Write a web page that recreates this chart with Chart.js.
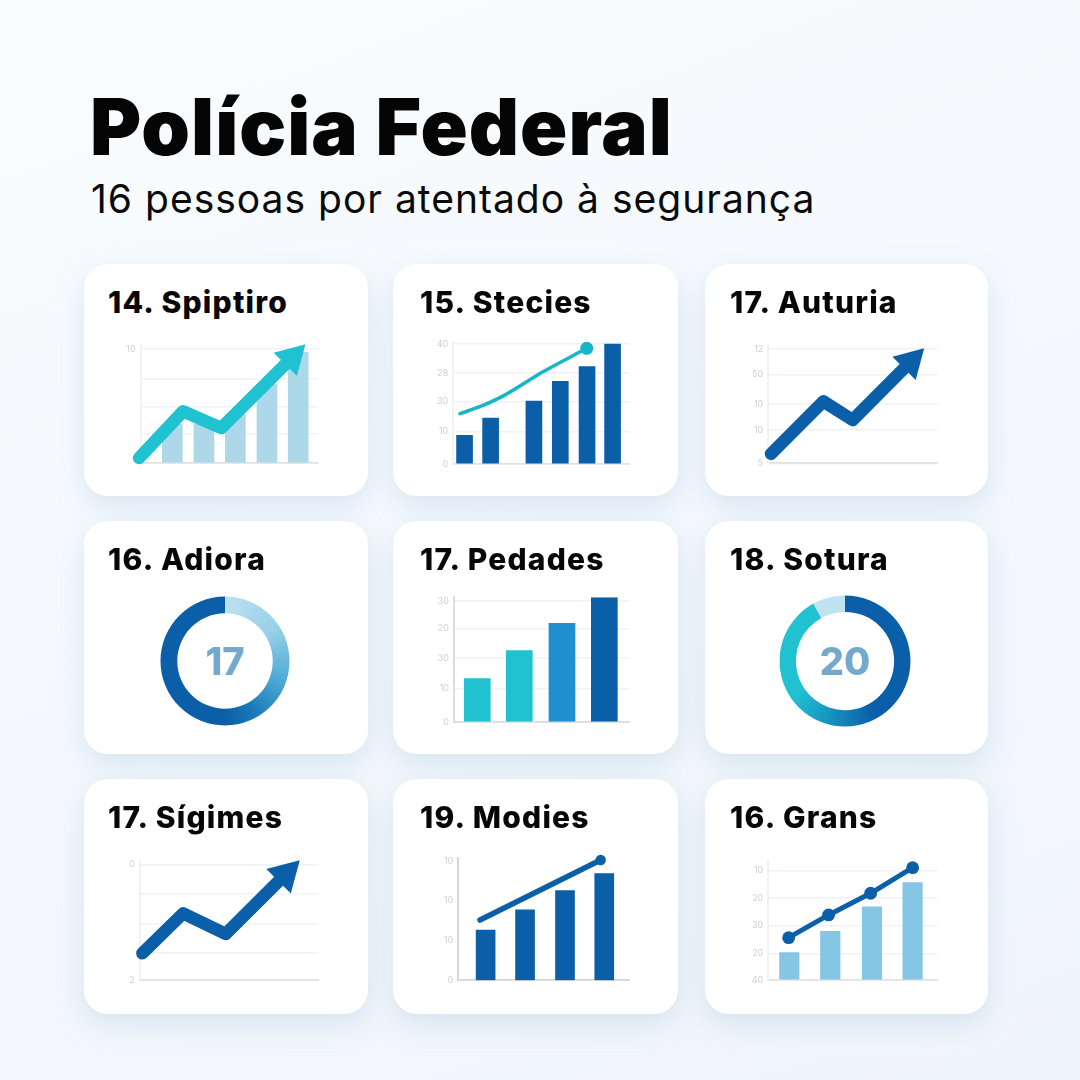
<!DOCTYPE html>
<html lang="pt"><head><meta charset="utf-8"><title>Polícia Federal</title>
<script src="https://cdn.jsdelivr.net/npm/chart.js@4"></script>
<style>
html,body{margin:0;padding:0}
body{width:1080px;height:1080px;position:relative;overflow:hidden;font-family:Inter,sans-serif;
background:linear-gradient(160deg,#f9fcfe 0%,#f5f9fd 45%,#f0f5fa 100%)}
h1{position:absolute;left:90px;top:80px;margin:0;font-size:78px;line-height:94px;font-weight:900;color:#050505;letter-spacing:1px;white-space:nowrap}
h2{position:absolute;left:91px;top:176px;margin:0;font-size:39px;line-height:46px;font-weight:400;color:#0a0a0a;letter-spacing:1px;white-space:nowrap}
.card{position:absolute;background:#fff;border-radius:24px;box-shadow:0 10px 28px rgba(140,180,215,.28)}
.card h3{position:absolute;left:24px;top:20px;margin:0;font-size:30px;line-height:36px;font-weight:800;color:#070707;white-space:nowrap;letter-spacing:1.2px}
.card canvas{position:absolute;left:0;top:0}
.val{position:absolute;font-size:38px;line-height:46px;font-weight:800;color:#74a9cd;text-align:center;width:100px}
</style></head><body>
<h1>Polícia Federal</h1>
<h2>16 pessoas por atentado à segurança</h2>
<script>
// ---- values ----
const spiptiroBarX=[17.8,35.6,53.3,71.1,88.7], spiptiroBarY=[3.4,3.4,4.3,6.9,9.7];
const spiptiroLineX=[-0.9,23.8,45.4,85.2], spiptiroLineY=[0.44,4.53,3.07,9.24];
const spiptiroTicks=[0,2.54,4.97,7.43,10], spiptiroLabels=["","","","","10"];

const steciesBarX=[6.4,21.2,45.8,60.8,76,90.5], steciesBarY=[2.39,3.83,5.25,6.89,8.11,10];
const steciesLineX=[3.8,16.5,29.7,51.5,75.8], steciesLineY=[4.19,4.86,5.78,7.72,9.64];
const steciesTicks=[0,2.72,5.19,7.58,10], steciesLabels=["0","10","30","28","40"];

const auturiaLineX=[1.6,32.5,49.8,84.1], auturiaLineY=[0.82,5.42,3.79,8.89];
const auturiaTicks=[0,2.92,5.2,7.78,10], auturiaLabels=["5","10","10","50","12"];

const adioraValues=[50,50], adioraCenter="17";

const pedadesBarX=[13.3,37.3,61.7,85.9], pedadesBarY=[3.58,5.9,8.15,10.28];
const pedadesTicks=[0,2.78,5.3,7.72,10], pedadesLabels=["0","10","30","20","30"];

const soturaValues=[50,42,8], soturaCenter="20";

const sigimesLineX=[1.5,24.3,48.1,81.7], sigimesLineY=[2.31,5.76,3.98,9.14];
const sigimesTicks=[0,2.36,4.9,7.44,10], sigimesLabels=["2","","","","0"];

const modiesBarX=[16,39.1,62.5,85.5], modiesBarY=[4.24,5.93,7.56,8.99];
const modiesLineX=[12.7,83.4], modiesLineY=[5.08,10.14];
const modiesTicks=[0,3.4,6.77,10], modiesLabels=["0","10","10","10"];

const gransBarX=[12.4,36.6,61.2,85.2], gransBarY=[2.5,4.45,6.7,8.9];
const gransLineX=[12,35.6,60.4,85.2], gransLineY=[3.87,5.95,7.93,10.27];
const gransTicks=[0,2.44,4.97,7.5,10], gransLabels=["40","20","30","20","10"];

const titles=["14. Spiptiro","15. Stecies","17. Auturia","16. Adiora","17. Pedades","18. Sotura","17. Sígimes","19. Modies","16. Grans"];

// ---- layout and styling ----
const BLUE="#0b5fa8",TEAL="#20c2d2",TEAL2="#17b6c6",PALE="#add8ea",SKY="#85c6e4";
const GRID="#f0f2f4",AXIS="#e0e3e6",TICK="#ccd1d6";
const cardRects=[[84,264,284,232],[393,264,285,232],[705,264,283,232],[84,521,284,233],[393,521,285,233],[705,521,283,233],[84,779,284,235],[393,779,285,235],[705,779,283,235]];
const titleLeft=[24,27,25,24,27,25,24,27,25];

function pts(xs,ys){return xs.map((x,i)=>({x,y:ys[i]}));}
function card(i){
  const [l,t,w,h]=cardRects[i];
  const d=document.createElement('div');d.className='card';
  d.style.cssText=`left:${l}px;top:${t}px;width:${w}px;height:${h}px`;
  const hh=document.createElement('h3');hh.textContent=titles[i];hh.style.left=titleLeft[i]+'px';d.appendChild(hh);
  const c=document.createElement('canvas');c.width=w;c.height=h;c.style.width=w+'px';c.style.height=h+'px';d.appendChild(c);
  document.body.appendChild(d);
  return {c,l,t,w,h,d};
}
function plot(i,rect,o){
  const k=card(i);const [pl,pt,pr,pb]=rect;
  const ds=[];
  if(o.line) ds.push({type:'line',data:pts(o.line[0],o.line[1]),borderColor:o.lineColor,borderWidth:o.lineWidth,
    borderCapStyle:'round',borderJoinStyle:'round',tension:o.tension||0,clip:false,order:0,
    pointStyle:o.marker,pointRotation:o.rotation||0,pointRadius:o.radii,pointBackgroundColor:o.lineColor,pointBorderColor:o.lineColor,pointBorderWidth:0,pointHoverRadius:o.radii});
  if(o.bars) ds.push({type:'bar',data:pts(o.bars[0],o.bars[1]),backgroundColor:o.barColor,barThickness:o.barWidth,order:1});
  new Chart(k.c,{type:o.bars?'bar':'line',data:{datasets:ds},options:{
    responsive:false,animation:false,events:[],
    layout:{autoPadding:false,padding:{left:0,top:pt-k.t,right:k.l+k.w-pr,bottom:k.t+k.h-pb}},
    plugins:{legend:{display:false},tooltip:{enabled:false}},
    scales:{
      x:{type:'linear',min:0,max:100,offset:false,grid:{display:false},ticks:{display:false},border:{display:true,color:o.axisColor||AXIS,width:1.8},afterFit:s=>{s.height=0;}},
      y:{type:'linear',min:0,max:o.ymax,
        grid:{display:o.gridOff?false:true,color:GRID,lineWidth:1.5,drawTicks:false},
        border:{display:true,color:o.axisColor||GRID,width:2},
        afterBuildTicks:s=>{s.ticks=o.ticks.map(v=>({value:v}));},
        afterFit:s=>{s.width=pl-k.l;},
        ticks:{autoSkip:false,padding:5,color:TICK,font:{family:'Inter',size:9},callback:(v,idx)=>o.labels[idx]}
      }}
  }});
}
function donut(i,values,center,colorFn,cx,cy,R,cut){
  const k=card(i);
  new Chart(k.c,{type:'doughnut',data:{datasets:[{data:values,borderWidth:0,backgroundColor:colorFn}]},options:{
    responsive:false,animation:false,events:[],cutout:cut,
    layout:{padding:{left:cx-R-k.l,right:k.l+k.w-cx-R,top:cy-R-k.t,bottom:k.t+k.h-cy-R}},
    plugins:{legend:{display:false},tooltip:{enabled:false}}}});
  const v=document.createElement('div');v.className='val';v.textContent=center;
  v.style.left=(cx-k.l-50)+'px';v.style.top=(cy-k.t-23)+'px';k.d.appendChild(v);
}
function conic(ctx,stops,fallback){
  const a=ctx.chart.chartArea;if(!a)return fallback;
  const g=ctx.chart.ctx.createConicGradient(-Math.PI/2,(a.left+a.right)/2,(a.top+a.bottom)/2);
  stops.forEach(s=>g.addColorStop(s[0],s[1]));return g;
}

plot(0,[140.7,345,318.3,463],{bars:[spiptiroBarX,spiptiroBarY],barColor:PALE,barWidth:20,line:[spiptiroLineX,spiptiroLineY],lineColor:TEAL,lineWidth:12.5,
  marker:'triangle',rotation:45,radii:[0,0,0,19],ymax:10.35,ticks:spiptiroTicks,labels:spiptiroLabels});
plot(1,[453.3,342.3,629.3,464],{bars:[steciesBarX,steciesBarY],barColor:BLUE,barWidth:16,line:[steciesLineX,steciesLineY],lineColor:TEAL2,lineWidth:3.5,tension:.3,
  marker:'circle',radii:[0,0,0,0,6.5],ymax:10.14,ticks:steciesTicks,labels:steciesLabels});
plot(2,[768.3,344,937.7,463.3],{line:[auturiaLineX,auturiaLineY],lineColor:BLUE,lineWidth:12.5,
  marker:'triangle',rotation:45,radii:[0,0,0,19],ymax:10.44,ticks:auturiaTicks,labels:auturiaLabels});
donut(3,adioraValues,adioraCenter,ctx=>ctx.dataIndex===1?BLUE:conic(ctx,[[0,'#bde1f0'],[.16,'#97d0e7'],[.3,'#4fabd6'],[.42,'#1a79b9'],[.5,BLUE],[1,BLUE]],PALE),225,661,64.5,'74%');
plot(4,[454,597.3,629,722],{bars:[pedadesBarX,pedadesBarY],barColor:[TEAL,TEAL,'#1f8fcf',BLUE],barWidth:26,ymax:10.3,ticks:pedadesTicks,labels:pedadesLabels,axisColor:'#d9dde1'});
donut(5,soturaValues,soturaCenter,ctx=>ctx.dataIndex===2?'#bfe3f1':conic(ctx,[[0,BLUE],[.42,BLUE],[.58,'#1aa2c6'],[.66,TEAL],[1,TEAL]],BLUE),845,661,65.5,'75%');
plot(6,[139.7,861,318.3,980],{line:[sigimesLineX,sigimesLineY],lineColor:BLUE,lineWidth:12.5,
  marker:'triangle',rotation:45,radii:[0,0,0,20],ymax:10.29,ticks:sigimesTicks,labels:sigimesLabels});
plot(7,[458.3,858.3,629,980.3],{bars:[modiesBarX,modiesBarY],barColor:BLUE,barWidth:19,line:[modiesLineX,modiesLineY],lineColor:BLUE,lineWidth:5.5,
  marker:'circle',radii:[0,5.2],ymax:10.28,ticks:modiesTicks,labels:modiesLabels,gridOff:true,axisColor:'#d3d7db'});
plot(8,[768.3,861,937.7,980],{bars:[gransBarX,gransBarY],barColor:SKY,barWidth:19.5,line:[gransLineX,gransLineY],lineColor:BLUE,lineWidth:5,
  marker:'circle',radii:[6.4,6.4,6.4,6.4],ymax:10.88,ticks:gransTicks,labels:gransLabels});
</script>
</body></html>
